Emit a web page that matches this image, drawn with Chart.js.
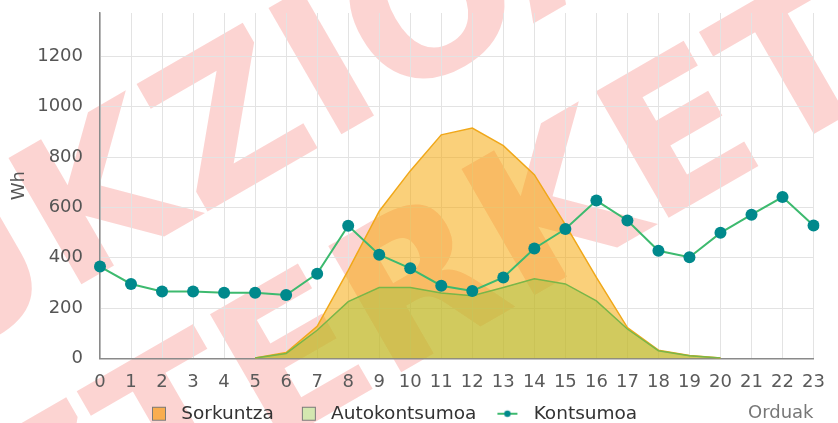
<!DOCTYPE html>
<html>
<head>
<meta charset="utf-8">
<script src="https://cdn.jsdelivr.net/npm/chart.js@4.4.1/dist/chart.umd.min.js"></script>
<style>
  html, body { margin: 0; padding: 0; background: #fff; }
  #wrap { width: 838px; height: 423px; }
</style>
</head>
<body>
<div id="wrap"><canvas id="energyChart" width="838" height="423"></canvas></div>
<script>
// orduak (x ardatza)
const hours = ["0", "1", "2", "3", "4", "5", "6", "7", "8", "9", "10", "11",
               "12", "13", "14", "15", "16", "17", "18", "19", "20", "21", "22", "23"];

// Wh balioak, grafikotik irakurrita
const sorkuntza = [null, null, null, null, null, 2, 24, 128, 350, 585, 745, 888,
                   915, 845, 730, 532, 322, 123, 33, 12, 2, null, null, null];
const autokontsumoa = [null, null, null, null, null, 2, 20, 112, 226, 282, 282, 260,
                       249, 282, 317, 296, 229, 117, 31, 11, 2, null, null, null];
const kontsumoa = [365, 296, 266, 266, 261, 261, 252, 337, 527, 412, 358, 289,
                   268, 322, 437, 514, 627, 548, 428, 402, 499, 571, 641, 528];

const seriesNames = ["Sorkuntza", "Autokontsumoa", "Kontsumoa"];
const yTicks = [0, 200, 400, 600, 800, 1000, 1200];
const yMax = 1372;
const watermarkLines = ["PRODUKZIOA", "AZTERKETA"];

const FONT = "DejaVu Sans";
Chart.defaults.font.family = FONT;

// legendako ikonoak: koadroa edo marra + puntua
function legendIcon(kind, fill, stroke) {
  const c = document.createElement("canvas");
  c.width = 46;
  c.height = 18;
  const g = c.getContext("2d");
  if (kind === "box") {
    g.fillStyle = fill;
    g.fillRect(26.5, 2.5, 13, 13);
    g.strokeStyle = stroke;
    g.lineWidth = 1;
    g.strokeRect(26.5, 2.5, 13, 13);
  } else {
    g.strokeStyle = fill;
    g.lineWidth = 2;
    g.beginPath();
    g.moveTo(19, 9);
    g.lineTo(39, 9);
    g.stroke();
    g.fillStyle = stroke;
    g.beginPath();
    g.arc(29, 9, 3.2, 0, Math.PI * 2);
    g.fill();
  }
  return c;
}

const icons = [
  legendIcon("box", "#f9ad4f", "#7a7a7a"),
  legendIcon("box", "#d4e7b0", "#7a7a7a"),
  legendIcon("line", "#3dba6f", "#00898c")
];

// ur-marka, grafikoaren atzean
const watermark = {
  id: "watermark",
  beforeDraw(chart) {
    const ctx = chart.ctx;
    ctx.save();
    ctx.rotate(-Math.PI / 6);
    ctx.font = "bold 200px '" + FONT + "'";
    ctx.fillStyle = "rgba(240, 40, 30, 0.2)";
    ctx.textAlign = "left";
    ctx.textBaseline = "alphabetic";
    ctx.fillText(watermarkLines[0], -889, 287);
    ctx.fillText(watermarkLines[1], -430, 523);
    ctx.restore();
  }
};

// legenda ezkerrerantz eta behera mugitu (jatorrizkoan bezala)
const legendShift = {
  id: "legendShift",
  afterLayout(chart) {
    const lg = chart.legend;
    if (lg) {
      lg.left = 124;
      lg.top += 10;
      lg.bottom += 10;
    }
  }
};

const ctx = document.getElementById("energyChart").getContext("2d");

const chart = new Chart(ctx, {
  type: "line",
  data: {
    labels: hours,
    datasets: [
      {
        label: seriesNames[0],
        data: sorkuntza,
        order: 3,
        borderColor: "#f0a81a",
        backgroundColor: "rgba(245, 165, 0, 0.52)",
        borderWidth: 1.5,
        fill: "origin",
        tension: 0,
        pointRadius: 0,
        pointHoverRadius: 0
      },
      {
        label: seriesNames[1],
        data: autokontsumoa,
        order: 2,
        borderColor: "#7ab648",
        backgroundColor: "rgba(160, 195, 60, 0.45)",
        borderWidth: 1.5,
        fill: "origin",
        tension: 0,
        pointRadius: 0,
        pointHoverRadius: 0
      },
      {
        label: seriesNames[2],
        data: kontsumoa,
        order: 1,
        borderColor: "#3dba6f",
        backgroundColor: "#00898c",
        borderWidth: 2,
        fill: false,
        tension: 0,
        pointRadius: 6,
        pointHoverRadius: 6,
        pointBorderWidth: 0,
        pointBackgroundColor: "#00898c"
      }
    ]
  },
  options: {
    responsive: false,
    animation: false,
    layout: { padding: { top: 13, right: 13, left: 0, bottom: 0 } },
    plugins: {
      tooltip: { enabled: false },
      legend: {
        position: "bottom",
        align: "start",
        labels: {
          usePointStyle: true,
          pointStyleWidth: 46,
          padding: 2,
          color: "#333",
          font: { size: 18.5, family: FONT },
          generateLabels(chart) {
            return chart.data.datasets.map((ds, i) => ({
              text: ds.label,
              pointStyle: icons[i],
              fontColor: "#333",
              hidden: false,
              lineWidth: 0,
              datasetIndex: i
            }));
          }
        }
      }
    },
    scales: {
      x: {
        offset: false,
        grid: { color: "#e3e3e3", lineWidth: 1, drawTicks: false },
        border: { color: "#8a8a8a", width: 1.5 },
        ticks: {
          color: "#5a5a5a",
          font: { size: 18 },
          padding: 13,
          autoSkip: false,
          maxRotation: 0
        },
        title: {
          display: true,
          text: "Orduak",
          align: "end",
          color: "#777",
          font: { size: 18 },
          padding: { top: 0, bottom: -32 }
        },
        afterFit(scale) { scale.height = 34; }
      },
      y: {
        min: 0,
        max: yMax,
        grid: { color: "#e3e3e3", lineWidth: 1, drawTicks: false },
        border: { color: "#8a8a8a", width: 1.5 },
        afterBuildTicks(scale) {
          scale.ticks = yTicks.map((v) => ({ value: v }));
        },
        ticks: {
          color: "#555",
          font: { size: 18 },
          padding: 17,
          callback: (v) => String(v)
        },
        title: {
          display: true,
          text: "Wh",
          color: "#555",
          font: { size: 18 },
          padding: { top: 9, bottom: 0 }
        },
        afterFit(scale) {
          scale.width = 100;
          scale.paddingTop = 0;
          scale.paddingBottom = 0;
        }
      }
    }
  },
  plugins: [watermark, legendShift]
});
</script>
</body>
</html>
